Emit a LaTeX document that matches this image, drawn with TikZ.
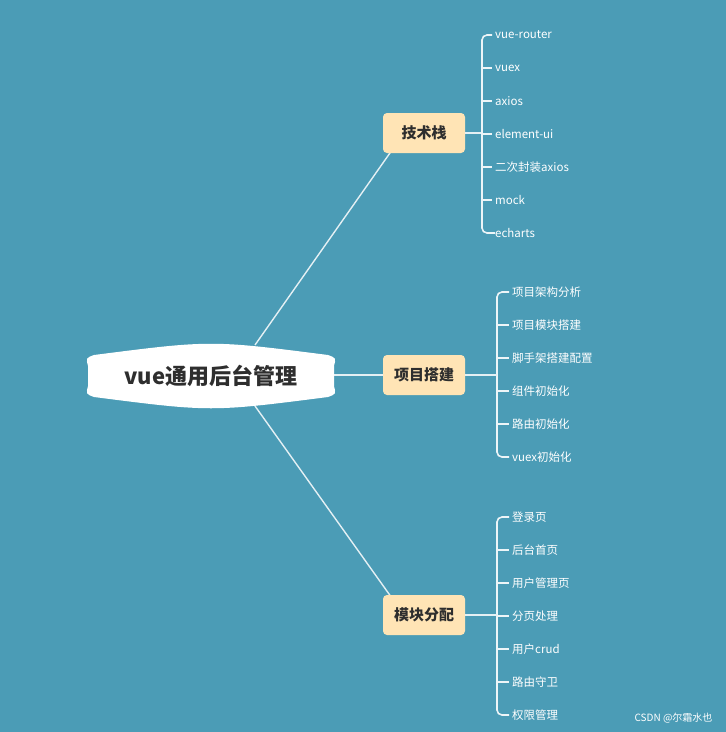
\documentclass[tikz,border=0pt]{standalone}
\usepackage{fontspec}
\setmainfont{Noto Sans CJK SC}
\definecolor{bg}{HTML}{4B9CB6}
\definecolor{boxc}{HTML}{FFE4B5}
\definecolor{ink}{HTML}{2E2E2E}
\begin{document}
\begin{tikzpicture}[x=1pt,y=-1pt,
  branch/.style={fill=boxc,rounded corners=4pt,minimum width=82pt,minimum height=40pt,font=\fontsize{15}{18}\selectfont\bfseries,text=ink},
  item/.style={anchor=west,text=white,font=\fontsize{11.5}{14}\selectfont,inner sep=0pt},
  wire/.style={draw=white!85!bg,line width=1.4pt},
  brk/.style={draw=white!90!bg,line width=1.6pt,rounded corners=5pt}]
\fill[bg] (0,0) rectangle (726,732);
\useasboundingbox (0,0) rectangle (726,732);
% root
\coordinate (rc) at (211,376);
\draw[wire] (255,345) -- (404,133);
\draw[wire] (320,375) -- (404,375);
\draw[wire] (255,406) -- (404,615);
\fill[white] (88,366) .. controls (86,358) .. (94,355) .. controls (211,340) .. (328,355) .. controls (336,358) .. (334,366) -- (334,386) .. controls (336,394) .. (328,397) .. controls (211,412) .. (94,397) .. controls (86,394) .. (88,386) -- cycle;
\node[font=\fontsize{22}{26}\selectfont\bfseries,text=ink] (root) at (rc) {vue通用后台管理};
\node[branch] (b1) at (424,133) {技术栈};
\node[branch] (b2) at (424,375) {项目搭建};
\node[branch] (b3) at (424,615) {模块分配};
\draw[wire] (b1.east) -- (482,133);
\draw[wire] (b2.east) -- (482,375);
\draw[wire] (b3.east) -- (482,615);
% group 1
\foreach \t [count=\i] in {vue-router,vuex,axios,element-ui,二次封装axios,mock,echarts}{
  \node[item] (a\i) at (495,{35+33*(\i-1)}) {\t};
}
\draw[brk] (a1.west) ++(-3,0) -- (482,35) -- (482,233) -- (a7.west);
\foreach \i in {2,...,6}{\draw[brk] (482,{35+33*(\i-1)}) -- ([xshift=-3pt]a\i.west);}
% group 2
\foreach \t [count=\i] in {项目架构分析,项目模块搭建,脚手架搭建配置,组件初始化,路由初始化,vuex初始化}{
  \node[item] (c\i) at (512,{292+33*(\i-1)}) {\t};
}
\draw[brk] ([xshift=-3pt]c1.west) -- (497,292) -- (497,457) -- ([xshift=-3pt]c6.west);
\draw[wire] (482,375) -- (497,375);
\foreach \i in {2,...,5}{\draw[brk] (497,{292+33*(\i-1)}) -- ([xshift=-3pt]c\i.west);}
% group 3
\foreach \t [count=\i] in {登录页,后台首页,用户管理页,分页处理,用户crud,路由守卫,权限管理}{
  \node[item] (d\i) at (512,{517+33*(\i-1)}) {\t};
}
\draw[brk] ([xshift=-3pt]d1.west) -- (497,517) -- (497,715) -- ([xshift=-3pt]d7.west);
\draw[wire] (482,615) -- (497,615);
\foreach \i in {2,...,6}{\draw[brk] (497,{517+33*(\i-1)}) -- ([xshift=-3pt]d\i.west);}
\node[text=white,font=\fontsize{10}{12}\selectfont,anchor=east] (wm) at (716,718) {CSDN @尔霜水也};
\end{tikzpicture}
\end{document}
